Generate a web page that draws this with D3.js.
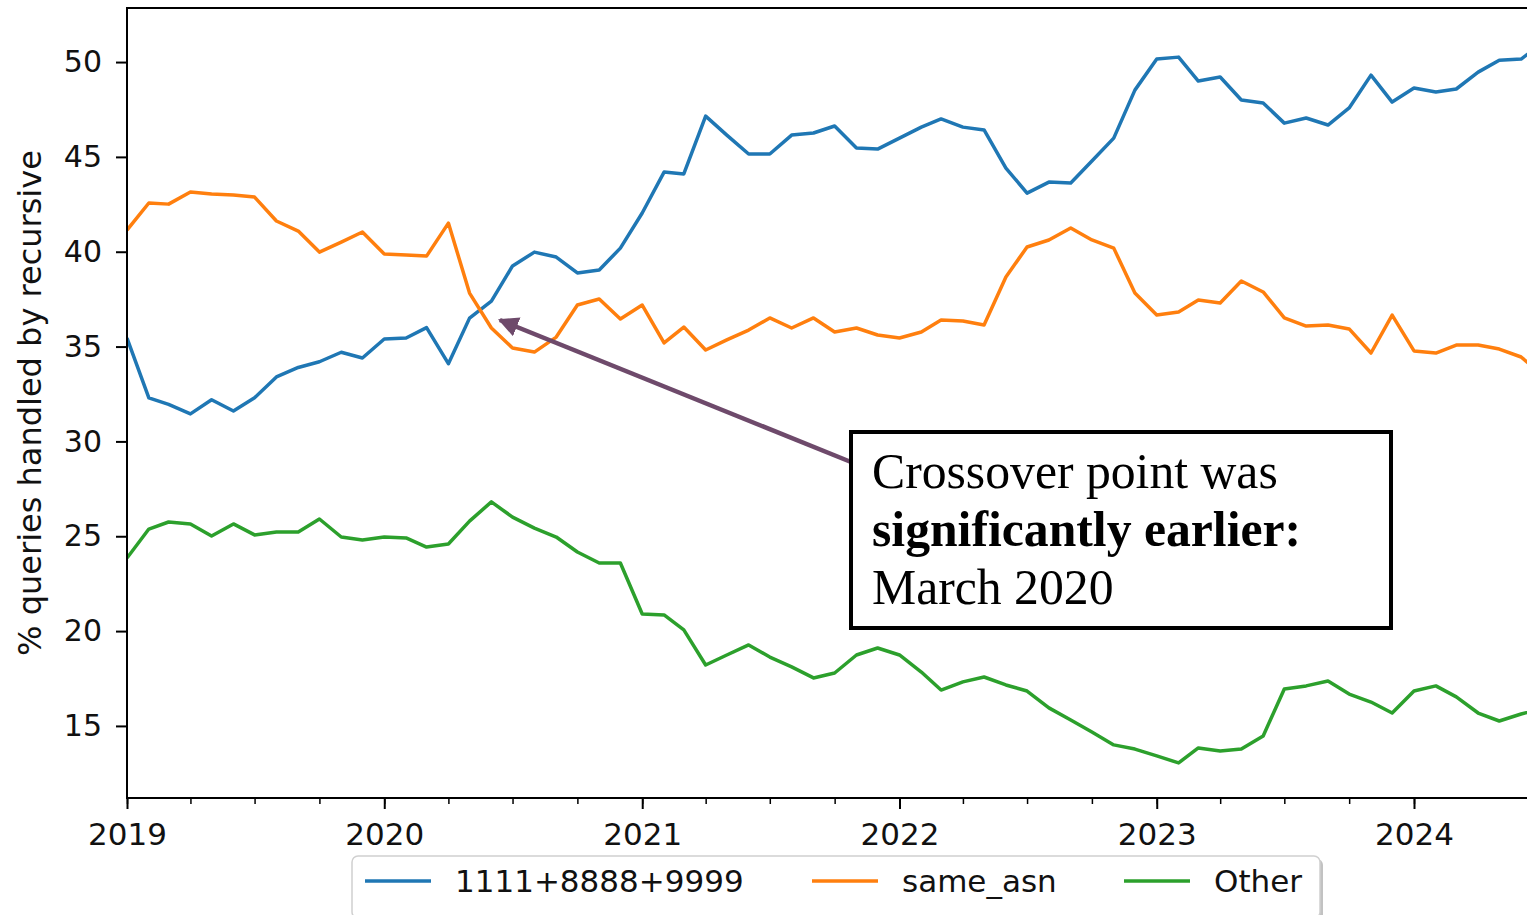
<!DOCTYPE html>
<html>
<head>
<meta charset="utf-8">
<script src="https://cdn.jsdelivr.net/npm/d3@7"></script>
<style>
  body { margin: 0; background: #fff; }
  svg { display: block; }
  .tick text { font-family: "DejaVu Sans", sans-serif; }
</style>
</head>
<body>
<svg id="chart" width="1527" height="915"></svg>
<script>
// monthly series, starting January 2019
var startMonth = new Date(2019, 0, 1);

var seriesNames = ['1111+8888+9999', 'same_asn', 'Other'];
var seriesColors = ['#1f77b4', '#ff7f0e', '#2ca02c'];

var bigResolvers = [35.45, 32.3, 31.95, 31.45, 32.2, 31.6, 32.3, 33.4, 33.9, 34.2, 34.7, 34.4,
  35.4, 35.45, 36.0, 34.1, 36.5, 37.4, 39.25, 39.98, 39.72, 38.88, 39.04, 40.19,
  42.04, 44.2, 44.1, 47.15, 46.15, 45.15, 45.15, 46.15, 46.26, 46.63, 45.47, 45.41,
  45.99, 46.57, 47.0, 46.57, 46.42, 44.41, 43.09, 43.67, 43.62, 44.78, 45.99, 48.52,
  50.16, 50.26, 49.0, 49.21, 48.0, 47.84, 46.78, 47.05, 46.68, 47.58, 49.31, 47.89,
  48.63, 48.42, 48.58, 49.47, 50.1, 50.16, 51.0];

var sameAsn = [41.14, 42.57, 42.51, 43.15, 43.04, 42.99, 42.88, 41.62, 41.09, 39.98, 40.51, 41.04,
  39.88, 39.83, 39.77, 41.51, 37.82, 35.98, 34.92, 34.71, 35.5, 37.19, 37.51, 36.45,
  37.19, 35.19, 36.03, 34.82, 35.35, 35.87, 36.51, 35.98, 36.51, 35.77, 35.98, 35.61,
  35.45, 35.77, 36.4, 36.35, 36.14, 38.67, 40.25, 40.62, 41.25, 40.62, 40.19, 37.82,
  36.66, 36.82, 37.45, 37.3, 38.46, 37.88, 36.51, 36.08, 36.14, 35.93, 34.66, 36.66,
  34.77, 34.66, 35.08, 35.08, 34.87, 34.45, 33.5];

var other = [23.85, 25.38, 25.75, 25.65, 25.01, 25.65, 25.07, 25.22, 25.22, 25.91, 24.96, 24.8,
  24.96, 24.91, 24.43, 24.59, 25.8, 26.81, 26.01, 25.43, 24.96, 24.17, 23.59, 23.59,
  20.9, 20.85, 20.06, 18.21, 18.74, 19.27, 18.63, 18.11, 17.53, 17.79, 18.74, 19.11,
  18.74, 17.84, 16.89, 17.32, 17.58, 17.16, 16.84, 15.95, 15.31, 14.68, 14.0, 13.78,
  13.42, 13.05, 13.84, 13.68, 13.78, 14.47, 16.95, 17.11, 17.37, 16.68, 16.26, 15.68,
  16.84, 17.11, 16.53, 15.68, 15.26, 15.63, 15.9];

var yTicks = [15, 20, 25, 30, 35, 40, 45, 50];
var yLabel = '% queries handled by recursive';

// annotation
var noteTarget = { date: new Date(2020, 5, 13), value: 36.4 };
var noteLines = [
  { text: 'Crossover point was', bold: false },
  { text: 'significantly earlier:', bold: true },
  { text: 'March 2020', bold: false }
];

// ---------------------------------------------------------------

function draw() {
  var svg = d3.select('#chart');

  var plotLeft = 127, plotTop = 8, plotBottom = 798, plotRight = 1560;

  var x = d3.scaleTime()
    .domain([new Date(2019, 0, 1), new Date(2024, 0, 1)])
    .range([plotLeft, 1414]);

  var y = d3.scaleLinear()
    .domain([11.2, 52.85])
    .range([plotBottom, plotTop]);

  var series = [bigResolvers, sameAsn, other].map(function(vals, k) {
    return {
      name: seriesNames[k],
      color: seriesColors[k],
      points: vals.map(function(v, i) {
        return { date: d3.timeMonth.offset(startMonth, i), value: v };
      })
    };
  });

  var defs = svg.append('defs');
  defs.append('clipPath').attr('id', 'plotclip')
    .append('rect')
    .attr('x', plotLeft).attr('y', plotTop)
    .attr('width', plotRight - plotLeft).attr('height', plotBottom - plotTop);

  // lines
  var line = d3.line()
    .x(function(d) { return x(d.date); })
    .y(function(d) { return y(d.value); });

  svg.append('g')
    .attr('clip-path', 'url(#plotclip)')
    .selectAll('path')
    .data(series)
    .enter().append('path')
    .attr('d', function(d) { return line(d.points); })
    .attr('fill', 'none')
    .attr('stroke', function(d) { return d.color; })
    .attr('stroke-width', 3.5)
    .attr('stroke-linejoin', 'round');

  // frame (left, top, bottom spines)
  svg.append('path')
    .attr('d', 'M' + plotRight + ',' + plotTop + 'H' + plotLeft + 'V' + plotBottom + 'H' + plotRight)
    .attr('fill', 'none')
    .attr('stroke', '#000')
    .attr('stroke-width', 2);

  // y axis
  var yAxis = svg.append('g')
    .attr('transform', 'translate(' + plotLeft + ',0)')
    .call(d3.axisLeft(y).tickValues(yTicks).tickSize(11).tickPadding(14));
  yAxis.select('.domain').remove();
  yAxis.selectAll('.tick line').attr('stroke-width', 2);
  yAxis.selectAll('.tick text').attr('font-size', 30).attr('fill', '#111');

  // x axis, major years + quarterly minor ticks
  var xMinor = svg.append('g')
    .attr('transform', 'translate(0,' + plotBottom + ')')
    .call(d3.axisBottom(x).ticks(d3.timeMonth.every(3)).tickSize(6).tickFormat(''));
  xMinor.select('.domain').remove();
  xMinor.selectAll('.tick line').attr('stroke-width', 1.5);

  var xAxis = svg.append('g')
    .attr('transform', 'translate(0,' + plotBottom + ')')
    .call(d3.axisBottom(x).ticks(d3.timeYear.every(1)).tickSize(11).tickPadding(14)
      .tickFormat(d3.timeFormat('%Y')));
  xAxis.select('.domain').remove();
  xAxis.selectAll('.tick line').attr('stroke-width', 2);
  xAxis.selectAll('.tick text').attr('font-size', 31).attr('fill', '#111');

  // y label
  svg.append('text')
    .attr('transform', 'translate(41,' + ((plotTop + plotBottom) / 2) + ') rotate(-90)')
    .attr('text-anchor', 'middle')
    .attr('font-family', 'DejaVu Sans, sans-serif')
    .attr('font-size', 32)
    .attr('fill', '#111')
    .text(yLabel);

  // annotation arrow
  defs.append('marker')
    .attr('id', 'head')
    .attr('viewBox', '0 0 10 10')
    .attr('refX', 9).attr('refY', 5)
    .attr('markerWidth', 4.5).attr('markerHeight', 4.5)
    .attr('orient', 'auto')
    .append('path')
    .attr('d', 'M0,0L10,5L0,10Z')
    .attr('fill', '#6e4a6b');

  var boxX = 851, boxY = 432, boxW = 540, boxH = 196;

  svg.append('line')
    .attr('x1', boxX).attr('y1', 462)
    .attr('x2', x(noteTarget.date)).attr('y2', y(noteTarget.value))
    .attr('stroke', '#6e4a6b')
    .attr('stroke-width', 4.5)
    .attr('marker-end', 'url(#head)');

  svg.append('rect')
    .attr('x', boxX).attr('y', boxY)
    .attr('width', boxW).attr('height', boxH)
    .attr('fill', '#fff')
    .attr('stroke', '#000')
    .attr('stroke-width', 4);

  svg.append('g').selectAll('text')
    .data(noteLines)
    .enter().append('text')
    .attr('x', boxX + 21)
    .attr('y', function(d, i) { return boxY + 56 + i * 58; })
    .attr('font-family', 'Liberation Serif, Times New Roman, serif')
    .attr('font-size', 49.7)
    .attr('font-weight', function(d) { return d.bold ? 'bold' : 'normal'; })
    .attr('fill', '#000')
    .text(function(d) { return d.text; });

  // legend below the axes
  var legend = svg.append('g');
  legend.append('rect')
    .attr('x', 355).attr('y', 859).attr('width', 968).attr('height', 62)
    .attr('rx', 6).attr('fill', '#999').attr('opacity', 0.6);
  legend.append('rect')
    .attr('x', 352).attr('y', 856).attr('width', 968).attr('height', 62)
    .attr('rx', 6).attr('fill', '#fff').attr('stroke', '#d0d0d0').attr('stroke-width', 1.5);

  var legendX = [365, 812, 1124];
  var item = legend.selectAll('.item')
    .data(series)
    .enter().append('g')
    .attr('transform', function(d, i) { return 'translate(' + legendX[i] + ',881)'; });
  item.append('line')
    .attr('x1', 0).attr('x2', 66)
    .attr('stroke', function(d) { return d.color; })
    .attr('stroke-width', 3.5);
  item.append('text')
    .attr('x', 90).attr('y', 11)
    .attr('font-family', 'DejaVu Sans, sans-serif')
    .attr('font-size', 31)
    .attr('fill', '#111')
    .text(function(d) { return d.name; });
}

draw();
</script>
</body>
</html>
